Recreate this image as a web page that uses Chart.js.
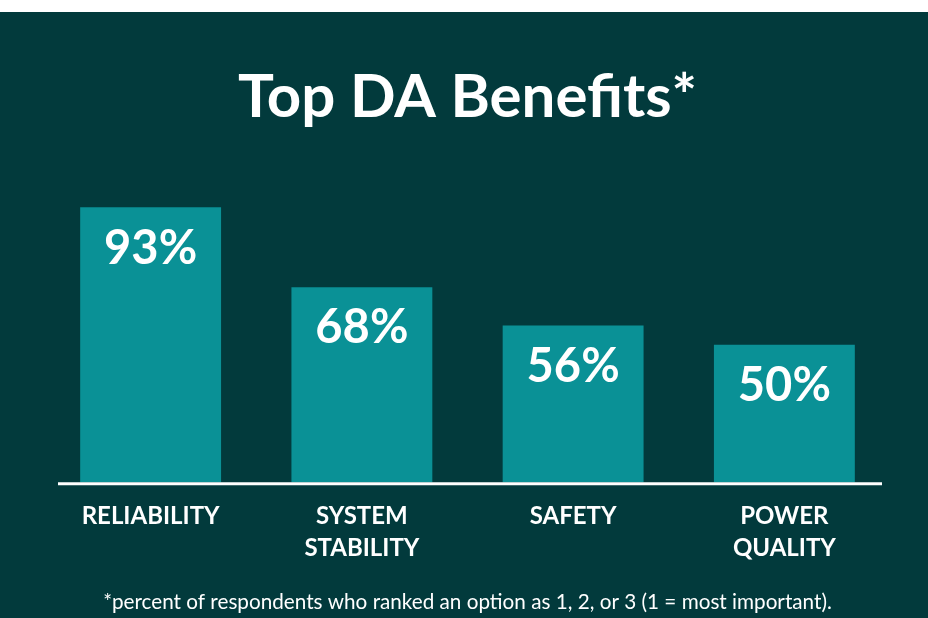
<!DOCTYPE html>
<html>
<head>
<meta charset="utf-8">
<script src="https://cdn.jsdelivr.net/npm/chart.js@4/dist/chart.umd.min.js"></script>
<style>
  html, body { margin: 0; padding: 0; background: #ffffff; }
  #wrap { width: 928px; height: 618px; position: relative; }
  canvas { display: block; }
</style>
</head>
<body>
<div id="wrap"><canvas id="c" width="928" height="618"></canvas></div>
<script>
// ---- data ----
const categories = [["RELIABILITY"], ["SYSTEM", "STABILITY"], ["SAFETY"], ["POWER", "QUALITY"]];
const percentValues = [93, 68, 56, 50];
const valueLabels = ["93%", "68%", "56%", "50%"];
const titleText = "Top DA Benefits*";
const footnoteText = "*percent of respondents who ranked an option as 1, 2, or 3 (1 = most important).";

// ---- styles ----
const BG = "#023a3c";
const BAR = "#0a9196";
const WHITE = "#ffffff";
const FONT = "Lato, 'Open Sans', 'DejaVu Sans', sans-serif";

const backgroundPlugin = {
  id: "bg",
  beforeDraw(chart) {
    const ctx = chart.ctx;
    ctx.save();
    ctx.fillStyle = "#ffffff";
    ctx.fillRect(0, 0, chart.width, 12);
    ctx.fillStyle = BG;
    ctx.fillRect(0, 12, chart.width, chart.height - 12);
    ctx.restore();
  }
};

const baselinePlugin = {
  id: "baseline",
  afterDatasetsDraw(chart) {
    const ctx = chart.ctx;
    const y = chart.scales.y.getPixelForValue(chart.scales.y.min);
    const a = chart.chartArea;
    ctx.save();
    ctx.strokeStyle = WHITE;
    ctx.lineWidth = 3;
    ctx.beginPath();
    ctx.moveTo(a.left + 13, y + 1.5);
    ctx.lineTo(a.right - 8, y + 1.5);
    ctx.stroke();
    ctx.restore();
  }
};

const valueLabelPlugin = {
  id: "valueLabels",
  afterDatasetsDraw(chart) {
    const ctx = chart.ctx;
    const meta = chart.getDatasetMeta(0);
    ctx.save();
    ctx.fillStyle = WHITE;
    ctx.font = "bold 47px " + FONT;
    ctx.textAlign = "center";
    ctx.textBaseline = "middle";
    meta.data.forEach((bar, i) => {
      ctx.fillText(valueLabels[i], bar.x, bar.y + 41);
    });
    ctx.restore();
  }
};

new Chart(document.getElementById("c"), {
  type: "bar",
  data: {
    labels: categories,
    datasets: [{
      data: percentValues,
      backgroundColor: BAR,
      borderWidth: 0,
      categoryPercentage: 1.0,
      barPercentage: 0.667
    }]
  },
  options: {
    responsive: false,
    animation: false,
    layout: { padding: { left: 45, right: 38, top: 0, bottom: 0 } },
    plugins: {
      legend: { display: false },
      tooltip: { enabled: false },
      title: {
        display: true,
        text: titleText,
        color: WHITE,
        font: { family: FONT, size: 60, weight: "bold", lineHeight: 1.2 },
        padding: { top: 62, bottom: 51 }
      },
      subtitle: {
        display: true,
        position: "bottom",
        text: footnoteText,
        color: WHITE,
        font: { family: FONT, size: 20.7, weight: "normal", lineHeight: 1.2 },
        padding: { top: 8, bottom: 3 }
      }
    },
    scales: {
      x: {
        grid: { display: false, drawTicks: false },
        border: { display: false },
        ticks: {
          color: WHITE,
          font: { family: FONT, size: 24, weight: "bold", lineHeight: 1.333 },
          padding: 18,
          maxRotation: 0,
          autoSkip: false
        }
      },
      y: {
        display: false,
        min: 7,
        max: 100
      }
    }
  },
  plugins: [backgroundPlugin, baselinePlugin, valueLabelPlugin]
});
</script>
</body>
</html>
